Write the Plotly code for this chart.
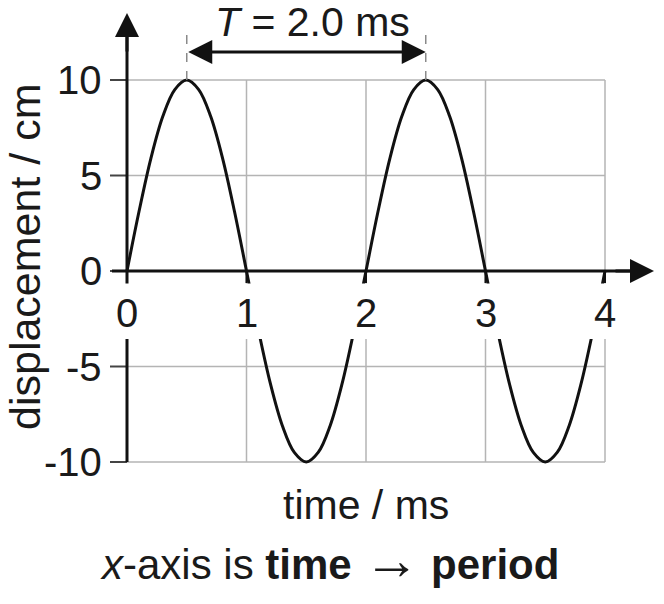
import plotly.graph_objects as go

# ---------------- data ----------------
time_ms = [0.0, 0.1, 0.2, 0.3, 0.4, 0.5, 0.6, 0.7, 0.8, 0.9,
           1.0, 1.1, 1.2, 1.3, 1.4, 1.5, 1.6, 1.7, 1.8, 1.9,
           2.0, 2.1, 2.2, 2.3, 2.4, 2.5, 2.6, 2.7, 2.8, 2.9,
           3.0, 3.1, 3.2, 3.3, 3.4, 3.5, 3.6, 3.7, 3.8, 3.9, 4.0]
displacement_cm = [0.0, 3.1, 5.9, 8.1, 9.5, 10.0, 9.5, 8.1, 5.9, 3.1,
                   0.0, -3.1, -5.9, -8.1, -9.5, -10.0, -9.5, -8.1, -5.9, -3.1,
                   0.0, 3.1, 5.9, 8.1, 9.5, 10.0, 9.5, 8.1, 5.9, 3.1,
                   0.0, -3.1, -5.9, -8.1, -9.5, -10.0, -9.5, -8.1, -5.9, -3.1, 0.0]

x_tick_vals = [0, 1, 2, 3, 4]
x_tick_text = ["0", "1", "2", "3", "4"]
y_tick_vals = [-10, -5, 0, 5, 10]
y_tick_text = ["-10", "-5", "0", "5", "10"]

period_start = 0.5
period_end = 2.5
peak_value = 10
period_label = "<i>T</i> = 2.0 ms"
x_title = "time / ms"
y_title = "displacement / cm"
caption = ("<i>x</i>-axis is <b>time</b> "
           "<span style=\"font-size:56px;font-weight:normal\">\u2192</span>"
           " <b>period</b>")

# ---------------- geometry ----------------
W, H = 664, 604
X0PX, XSCALE = 127, 119.5   # pixel of x=0, px per ms
Y0PX, YSCALE = 271, 19.1    # pixel of y=0, px per cm


def px2x(p):
    return (p - X0PX) / XSCALE


def px2y(p):
    return (Y0PX - p) / YSCALE


xr = [px2x(0), px2x(W)]
yr = [px2y(H), px2y(0)]

FONT = "Liberation Sans, Arial, sans-serif"
TXT = "#1a1a1a"
AX = "#111111"
GRID = "#b4b4b4"
FS = 40

xmin, xmax = min(x_tick_vals), max(x_tick_vals)
ymin, ymax = min(y_tick_vals), max(y_tick_vals)

fig = go.Figure()
fig.add_trace(go.Scatter(x=time_ms, y=displacement_cm, mode="lines",
                         line=dict(color=AX, width=3, shape="spline"),
                         hoverinfo="skip", showlegend=False))

shapes = []
# grid
for xv in x_tick_vals[1:]:
    shapes.append(dict(type="line", xref="x", yref="y", x0=xv, x1=xv, y0=ymin, y1=ymax,
                       line=dict(color=GRID, width=1.5), layer="below"))
for yv in y_tick_vals:
    shapes.append(dict(type="line", xref="x", yref="y", x0=xmin, x1=xmax, y0=yv, y1=yv,
                       line=dict(color=GRID, width=1.5), layer="below"))
# y ticks
for yv in y_tick_vals:
    shapes.append(dict(type="line", xref="x", yref="y", x0=px2x(110), x1=xmin, y0=yv, y1=yv,
                       line=dict(color="#444", width=2), layer="above"))
# x ticks
for xv in x_tick_vals:
    shapes.append(dict(type="line", xref="x", yref="y", x0=xv, x1=xv, y0=0, y1=px2y(283),
                       line=dict(color=AX, width=2), layer="above"))
# axes
shapes.append(dict(type="line", xref="x", yref="y", x0=xmin, x1=xmin, y0=ymin, y1=px2y(30),
                   line=dict(color=AX, width=3), layer="above"))
shapes.append(dict(type="line", xref="x", yref="y", x0=px2x(112), x1=px2x(635), y0=0, y1=0,
                   line=dict(color=AX, width=3), layer="above"))
# white band behind the x tick labels
shapes.append(dict(type="rect", xref="x", yref="y", x0=px2x(100), x1=px2x(625),
                   y0=px2y(339), y1=px2y(283.5), fillcolor="white", line=dict(width=0),
                   layer="above"))
# dashed markers for the period
for xv in (period_start, period_end):
    shapes.append(dict(type="line", xref="x", yref="y", x0=xv, x1=xv, y0=peak_value,
                       y1=px2y(32), line=dict(color="#8a8a8a", width=1.5, dash="dash"),
                       layer="above"))

ann = []
# axis arrow heads
ann.append(dict(x=xmin, y=px2y(13), xref="x", yref="y", ax=0, ay=40, text="",
                showarrow=True, arrowhead=2, arrowsize=1.6, arrowwidth=3, arrowcolor=AX))
ann.append(dict(x=px2x(654), y=0, xref="x", yref="y", ax=-40, ay=0, text="",
                showarrow=True, arrowhead=2, arrowsize=1.6, arrowwidth=3, arrowcolor=AX))
# period double arrow
ann.append(dict(x=period_end, y=px2y(52), xref="x", yref="y",
                ax=period_start, ay=px2y(52), axref="x", ayref="y", text="",
                showarrow=True, arrowside="end+start", arrowhead=2, startarrowhead=2,
                arrowsize=1.6, startarrowsize=1.6, arrowwidth=3, arrowcolor=AX,
                standoff=0, startstandoff=0))
ann.append(dict(x=px2x(312), y=px2y(22), xref="x", yref="y", text=period_label,
                showarrow=False, font=dict(family=FONT, size=41, color=TXT),
                xanchor="center", yanchor="middle"))
# tick labels
for xv, t in zip(x_tick_vals, x_tick_text):
    ann.append(dict(x=xv, y=px2y(313), xref="x", yref="y", text=t, showarrow=False,
                    font=dict(family=FONT, size=FS, color=TXT),
                    xanchor="center", yanchor="middle"))
for yv, t in zip(y_tick_vals, y_tick_text):
    ann.append(dict(x=px2x(104), y=yv, xref="x", yref="y", text=t, showarrow=False,
                    font=dict(family=FONT, size=FS, color=TXT),
                    xanchor="right", yanchor="middle"))
# titles
ann.append(dict(x=px2x(366), y=px2y(505), xref="x", yref="y", text=x_title,
                showarrow=False, font=dict(family=FONT, size=41, color=TXT),
                xanchor="center", yanchor="middle"))
ann.append(dict(x=px2x(25), y=px2y(257), xref="x", yref="y", text=y_title, textangle=-90,
                showarrow=False, font=dict(family=FONT, size=43, color=TXT),
                xanchor="center", yanchor="middle"))
ann.append(dict(x=px2x(329), y=px2y(559), xref="x", yref="y", text=caption,
                showarrow=False, font=dict(family=FONT, size=42, color=TXT),
                xanchor="center", yanchor="middle"))

fig.update_layout(
    width=W, height=H,
    margin=dict(l=0, r=0, t=0, b=0),
    paper_bgcolor="white", plot_bgcolor="white",
    xaxis=dict(range=xr, visible=False, fixedrange=True),
    yaxis=dict(range=yr, visible=False, fixedrange=True),
    shapes=shapes, annotations=ann, showlegend=False,
)

fig.write_html("out.html")
